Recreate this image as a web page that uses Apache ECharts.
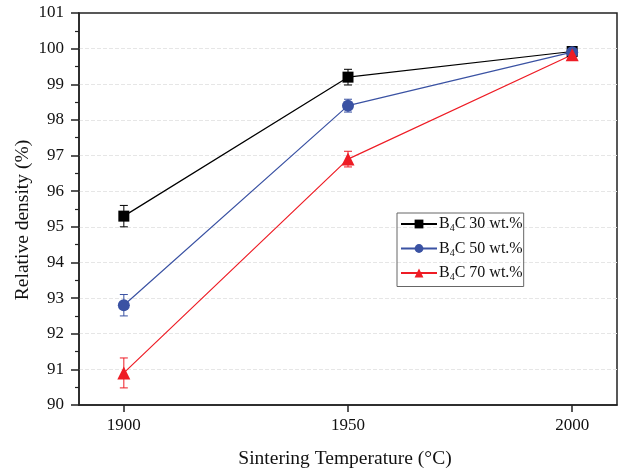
<!DOCTYPE html>
<html>
<head>
<meta charset="utf-8">
<script src="https://cdn.jsdelivr.net/npm/echarts@6/dist/echarts.min.js"></script>
<style>
  html, body { margin: 0; padding: 0; background: #fff; }
  #chart { width: 621px; height: 474px; }
</style>
</head>
<body>
<div id="chart"></div>
<script>
const temperatures = [1900, 1950, 2000];
const xTicks = [1900, 1950, 2000];

const density30 = [95.3, 99.2, 99.92];
const density50 = [92.8, 98.4, 99.9];
const density70 = [90.9, 96.9, 99.83];

const error30 = [0.3, 0.22, 0.06];
const error50 = [0.3, 0.18, 0.06];
const error70 = [0.42, 0.22, 0.06];

const names = ['B4C 30 wt.%', 'B4C 50 wt.%', 'B4C 70 wt.%'];
const colors = ['#000000', '#3a52a3', '#ee1c25'];

const font = 'Liberation Serif';

var chart = echarts.init(document.getElementById('chart'));

function pairs(values) {
  return temperatures.map((t, i) => [t, values[i]]);
}

function errorRows(values, errors) {
  return temperatures.map((t, i) => [t, values[i] - errors[i], values[i] + errors[i]]);
}

function errorBar(params, api) {
  const x = api.value(0);
  const bottom = api.coord([x, api.value(1)]);
  const top = api.coord([x, api.value(2)]);
  const w = 4;
  const style = { stroke: api.visual('color'), lineWidth: 1 };
  return {
    type: 'group',
    children: [
      { type: 'line', shape: { x1: top[0], y1: top[1], x2: bottom[0], y2: bottom[1] }, style: style },
      { type: 'line', shape: { x1: top[0] - w, y1: top[1], x2: top[0] + w, y2: top[1] }, style: style },
      { type: 'line', shape: { x1: bottom[0] - w, y1: bottom[1], x2: bottom[0] + w, y2: bottom[1] }, style: style }
    ]
  };
}

function lineSeries(i, values, symbol, size) {
  return {
    name: names[i],
    type: 'line',
    data: pairs(values),
    symbol: symbol,
    symbolSize: size,
    z: 3,
    color: colors[i],
    lineStyle: { width: 1.2, color: colors[i] },
    itemStyle: { color: colors[i], opacity: 1 }
  };
}

function barSeries(i, values, errors) {
  return {
    type: 'custom',
    renderItem: errorBar,
    data: errorRows(values, errors),
    itemStyle: { color: colors[i] },
    z: 2
  };
}

const option = {
  animation: false,
  backgroundColor: '#fff',
  grid: {
    left: 79,
    right: 4,
    top: 13,
    bottom: 65,
    show: true,
    borderColor: '#222',
    borderWidth: 1.5
  },
  legend: {
    data: names,
    orient: 'vertical',
    left: 397,
    top: 213,
    padding: [3, 1, 4, 3],
    itemGap: 7,
    itemWidth: 36,
    itemHeight: 11,
    borderColor: '#666',
    borderWidth: 1,
    formatter: function (name) {
      return 'B{sub|4}C ' + name.slice(4);
    },
    textStyle: {
      fontFamily: font,
      fontSize: 16,
      color: '#111',
      padding: [0, 0, 0, -3],
      rich: {
        sub: { fontFamily: font, fontSize: 10, color: '#111', padding: [9, 0, 0, 0] }
      }
    }
  },
  xAxis: {
    type: 'value',
    min: 1890,
    max: 2010,
    interval: 10,
    name: 'Sintering Temperature (°C)',
    nameLocation: 'middle',
    nameGap: 44,
    nameMoveOverlap: false,
    nameTextStyle: { fontFamily: font, fontSize: 19.5, color: '#111', padding: [0, 6, 0, 0] },
    axisLine: { lineStyle: { color: '#222', width: 1.5 } },
    axisTick: { customValues: xTicks, length: 7, lineStyle: { color: '#222', width: 1.5 } },
    axisLabel: {
      customValues: xTicks,
      margin: 12,
      fontFamily: font,
      fontSize: 17,
      color: '#111',
      formatter: function (v) { return String(v); }
    },
    splitLine: { show: false }
  },
  yAxis: {
    type: 'value',
    min: 90,
    max: 101,
    interval: 1,
    name: 'Relative density (%)',
    nameLocation: 'middle',
    nameGap: 46,
    nameMoveOverlap: false,
    nameTextStyle: { fontFamily: font, fontSize: 19.5, color: '#111', padding: [0, 22, 0, 0] },
    axisLine: { show: true, lineStyle: { color: '#222', width: 1.5 } },
    axisTick: { length: 8, lineStyle: { color: '#222', width: 1.5 } },
    minorTick: { show: true, splitNumber: 2, length: 4, lineStyle: { color: '#222', width: 1.2 } },
    axisLabel: { margin: 15, fontFamily: font, fontSize: 17, color: '#111' },
    splitLine: {
      show: true,
      showMinLine: false,
      showMaxLine: false,
      lineStyle: { color: '#e6e6e6', type: 'dashed', width: 1 }
    }
  },
  series: [
    barSeries(0, density30, error30),
    barSeries(1, density50, error50),
    barSeries(2, density70, error70),
    lineSeries(0, density30, 'rect', 11),
    lineSeries(1, density50, 'circle', 12),
    lineSeries(2, density70, 'triangle', 13)
  ]
};

chart.setOption(option);
</script>
</body>
</html>
